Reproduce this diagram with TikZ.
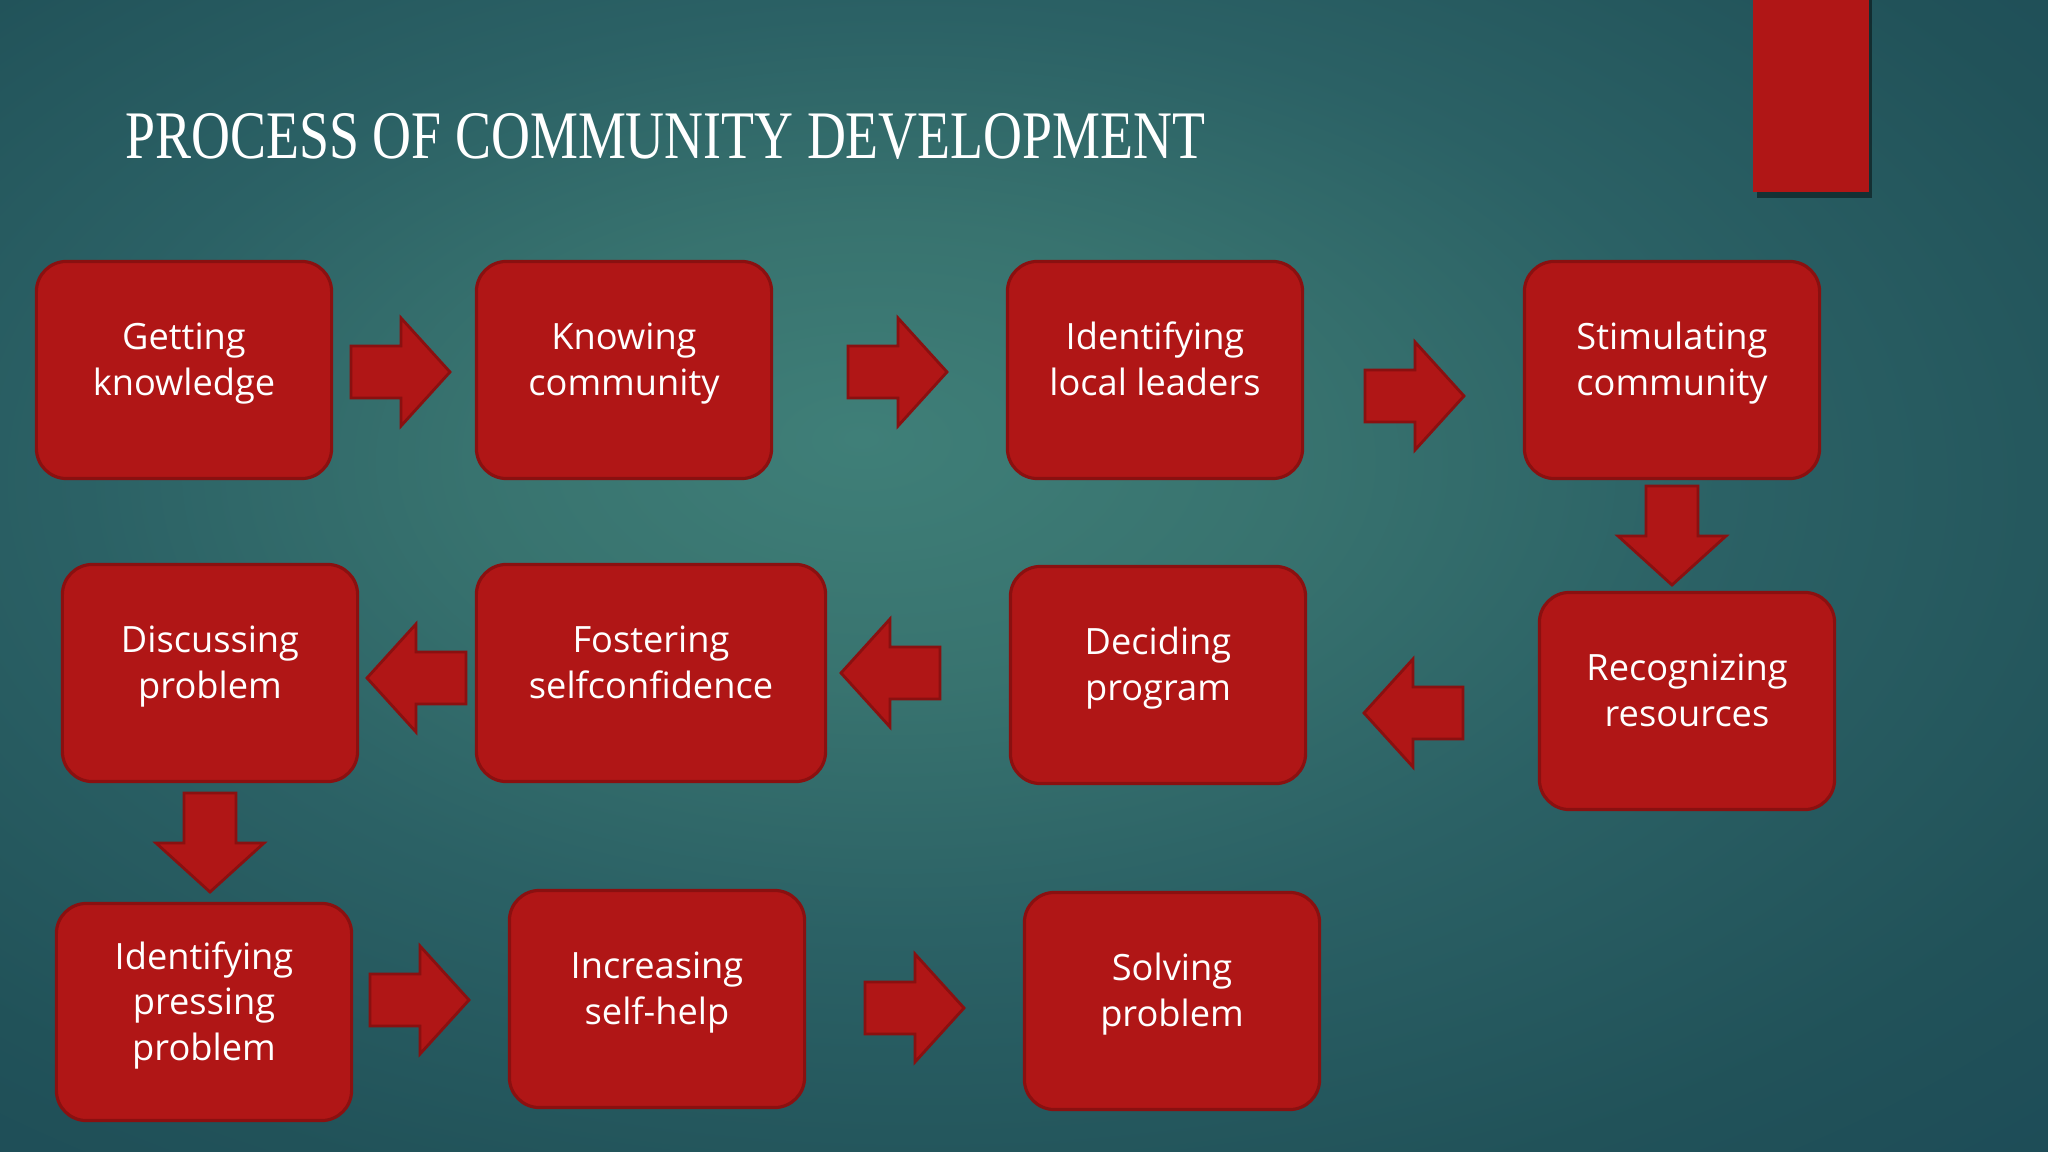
\documentclass[tikz,border=0pt]{standalone}
\usepackage{fontspec}
\setmainfont{Open Sans}
\newfontfamily\titlefont{Liberation Serif}
\usepackage{tikz}
\usepackage{xcolor}
\usetikzlibrary{positioning}

\definecolor{boxred}{HTML}{B01616}
\definecolor{boxedge}{HTML}{8A1010}

\pgfdeclareradialshading{slideshade}{\pgfpoint{-4bp}{6bp}}{%
  color(0bp)=(rgb,255:red,63;green,127;blue,120);
  color(10bp)=(rgb,255:red,56;green,115;blue,111);
  color(20bp)=(rgb,255:red,43;green,97;blue,101);
  color(32bp)=(rgb,255:red,33;green,82;blue,89);
  color(44bp)=(rgb,255:red,27;green,72;blue,86);
  color(56bp)=(rgb,255:red,23;green,65;blue,83);
  color(75bp)=(rgb,255:red,20;green,59;blue,78)}

\tikzset{
  stepbox/.style={draw=boxedge, line width=0.9pt, fill=boxred, rounded corners=0.3cm,
    minimum width=2.95cm, minimum height=2.17cm, text=white, align=center,
    text depth=0.22cm, font=\fontsize{10.3}{13}\selectfont},
  blockarrow/.pic={
    \filldraw[fill=boxred, draw=boxedge, line width=0.8pt]
      (0,-26) -- (50,-26) -- (50,-54) -- (99,0) -- (50,54) -- (50,26) -- (0,26) -- cycle;
  }
}

\begin{document}
\begin{tikzpicture}[x=0.01cm, y=-0.01cm]
\useasboundingbox (0,0) rectangle (2048,1152);
% Background of the slide
\shade[shading=slideshade] (0,0) rectangle (2048,1152);
% Red bar at the top right
\fill[black, opacity=0.45] (1757,0) rectangle (1872,198);
\fill[boxred] (1753,0) rectangle (1869,192);
% Title
\node[anchor=base west, inner sep=0pt, text=white] (title) at (125,159)
  {\resizebox{10.79cm}{0.45cm}{\titlefont PROCESS OF COMMUNITY DEVELOPMENT}};

% First row
\node[stepbox] (gk) at (184,370) {Getting\\knowledge};
\node[stepbox] (kc) at (624,370) {Knowing\\community};
\node[stepbox] (ill) at (1155,370) {Identifying\\local leaders};
\node[stepbox] (sc) at (1672,370) {Stimulating\\community};
% Second row
\node[stepbox] (dp) at (210,673) {Discussing\\problem};
\node[stepbox, minimum width=3.49cm] (fs) at (651,673) {Fostering\\selfconfidence};
\node[stepbox] (dpr) at (1158,675) {Deciding\\program};
\node[stepbox] (rr) at (1687,701) {Recognizing\\resources};
% Third row
\node[stepbox] (ipp) at (204,1012) {Identifying\\pressing\\problem};
\node[stepbox] (ish) at (657,999) {Increasing\\self-help};
\node[stepbox] (sp) at (1172,1001) {Solving\\problem};

% Block arrows between the steps
\pic at (351,372) {blockarrow};
\pic at (848,372) {blockarrow};
\pic at (1365,396) {blockarrow};
\pic[rotate=-90] at (1672,486) {blockarrow};
\pic[rotate=180] at (1463,713) {blockarrow};
\pic[rotate=180] at (940,673) {blockarrow};
\pic[rotate=180] at (466,678) {blockarrow};
\pic[rotate=-90] at (210,793) {blockarrow};
\pic at (370,1000) {blockarrow};
\pic at (865,1008) {blockarrow};
\end{tikzpicture}
\end{document}
